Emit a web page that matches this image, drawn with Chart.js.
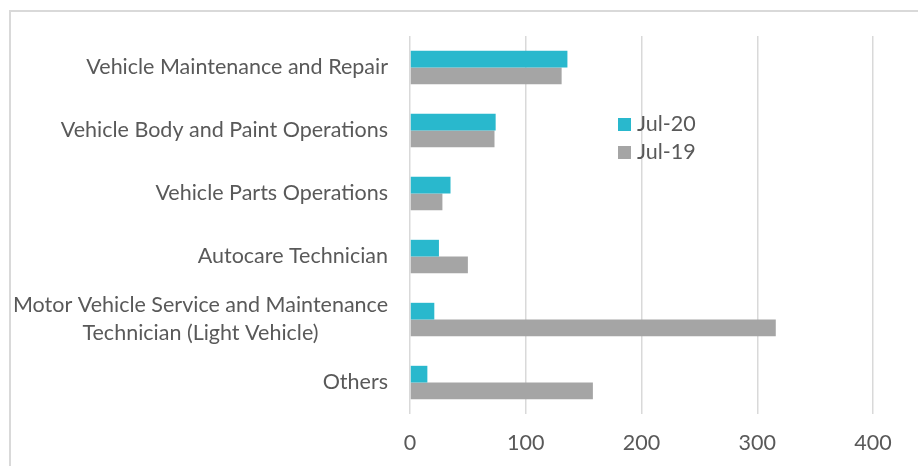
<!DOCTYPE html>
<html>
<head>
<meta charset="utf-8">
<script src="https://cdn.jsdelivr.net/npm/chart.js@4.4.1/dist/chart.umd.min.js"></script>
<style>
  body { margin: 0; background: #fff; }
  #wrap { width: 918px; height: 466px; }
</style>
</head>
<body>
<div id="wrap"><canvas id="myChart" width="918" height="466"></canvas></div>
<script>
var categories = [
    'Vehicle Maintenance and Repair',
    'Vehicle Body and Paint Operations',
    'Vehicle Parts Operations',
    'Autocare Technician',
    ['Motor Vehicle Service and Maintenance', 'Technician (Light Vehicle)'],
    'Others'
]
var jul20 = [136, 74, 35, 25, 21, 15]
var jul19 = [131, 73, 28, 50, 316, 158]
var xTicks = [0, 100, 200, 300, 400]

var FONT = 'Lato'
var FSIZE = 21.5
var TEXT = '#595959'

// frame round the chart, left and top edge only show in the picture
var framePlugin = {
    id: 'frame',
    beforeDraw: function (chart) {
        var c = chart.ctx
        c.save()
        c.strokeStyle = '#d9d9d9'
        c.lineWidth = 2
        c.strokeRect(10, 11, 930, 480)
        c.restore()
    }
}

// category labels: right aligned, wrapped label lines centred under each other
var catLabels = {
    id: 'catLabels',
    afterDraw: function (chart) {
        var c = chart.ctx
        var y = chart.scales.y
        c.save()
        c.font = FSIZE + 'px ' + FONT
        c.fillStyle = TEXT
        c.textBaseline = 'middle'
        var right = chart.chartArea.left - 22
        chart.data.labels.forEach(function (lab, i) {
            var py = y.getPixelForTick(i)
            if (Array.isArray(lab)) {
                var w = 0
                lab.forEach(function (l) { w = Math.max(w, c.measureText(l).width) })
                c.textAlign = 'center'
                var lh = 28
                var y0 = py - (lab.length - 1) * lh / 2
                lab.forEach(function (l, k) { c.fillText(l, right - w / 2, y0 + k * lh) })
            } else {
                c.textAlign = 'right'
                c.fillText(lab, right, py)
            }
        })
        c.restore()
    }
}

// legend sits inside the plot, stacked
var innerLegend = {
    id: 'innerLegend',
    afterDraw: function (chart) {
        var c = chart.ctx
        c.save()
        c.font = FSIZE + 'px ' + FONT
        c.textBaseline = 'middle'
        c.textAlign = 'left'
        chart.data.datasets.forEach(function (ds, i) {
            var cy = 124 + i * 28
            c.fillStyle = ds.backgroundColor
            c.fillRect(618, cy - 6, 13, 13)
            c.fillStyle = TEXT
            c.fillText(ds.label, 637, cy)
        })
        c.restore()
    }
}

var ctx = document.getElementById('myChart').getContext('2d')
var myChart = new Chart(ctx, {
    type: 'bar',
    data: {
        labels: categories,
        datasets: [{
            label: 'Jul-20',
            data: jul20,
            backgroundColor: '#29B8CD'
        }, {
            label: 'Jul-19',
            data: jul19,
            backgroundColor: '#A5A5A5'
        }]
    },
    options: {
        indexAxis: 'y',
        responsive: false,
        animation: false,
        barPercentage: 1,
        categoryPercentage: 0.53,
        layout: {
            padding: { left: 410, top: 36, right: 45, bottom: 10 }
        },
        plugins: {
            legend: { display: false },
            tooltip: { enabled: false }
        },
        scales: {
            y: {
                afterFit: function (scale) { scale.width = 0 },
                ticks: { display: false },
                grid: { display: false },
                border: { display: false }
            },
            x: {
                min: 0,
                max: 400,
                afterBuildTicks: function (scale) {
                    scale.ticks = xTicks.map(function (v) { return { value: v } })
                },
                afterFit: function (scale) { scale.height = 42 },
                ticks: {
                    color: TEXT,
                    font: { family: FONT, size: FSIZE },
                    padding: 16
                },
                grid: {
                    color: '#d9d9d9',
                    lineWidth: 1.5,
                    drawTicks: false
                },
                border: { display: false }
            }
        }
    },
    plugins: [framePlugin, catLabels, innerLegend]
})
</script>
</body>
</html>
